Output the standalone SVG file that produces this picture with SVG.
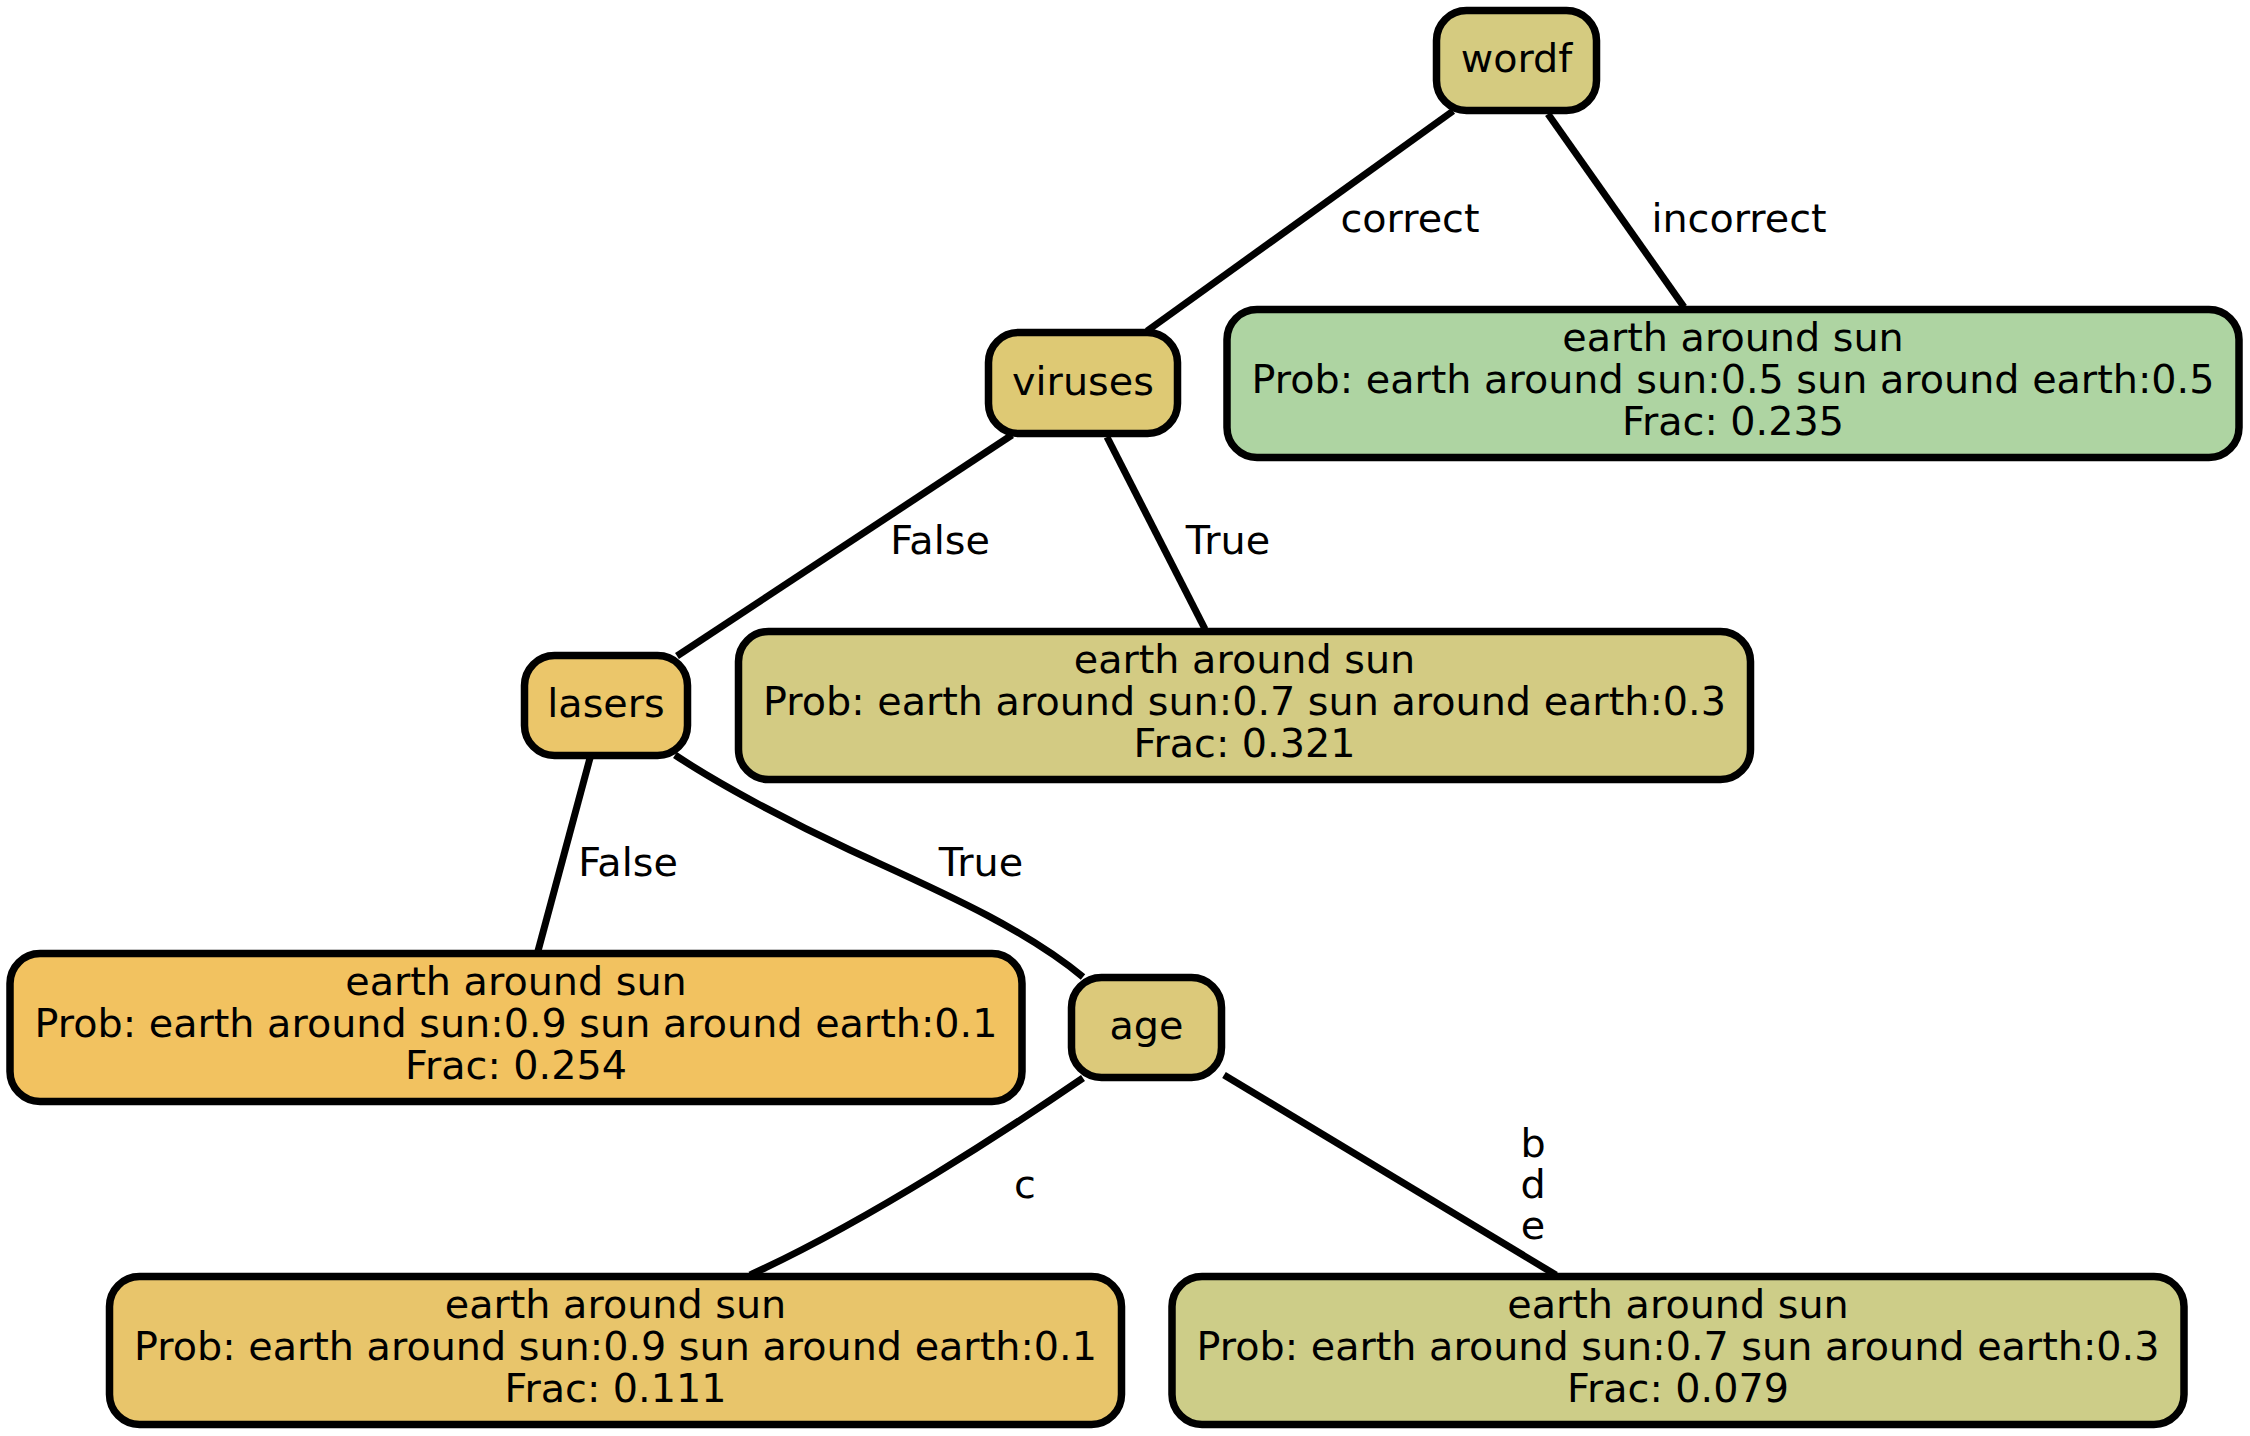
<svg xmlns="http://www.w3.org/2000/svg" width="2250" height="1436" viewBox="0 0 2250 1436">
<style>
.n{stroke:#000;stroke-width:7.5}
.e{fill:none;stroke:#000;stroke-width:7}
text{font-family:"DejaVu Sans","Liberation Sans",sans-serif;font-size:39.7px;fill:#000;text-anchor:middle}
</style>
<rect width="2250" height="1436" fill="#fff"/>
<g id="connectors">
<path class="e" d="M1453,111 L1147,331"/>
<path class="e" d="M1548,114 L1684,307"/>
<path class="e" d="M1012,435 L677,656"/>
<path class="e" d="M1107,437 L1205,629"/>
<path class="e" d="M590,758 L538,951"/>
<path class="e" d="M675,755 C720,785 790,822 850,850 C930,887 1020,925 1083,977"/>
<path class="e" d="M1083,1078 C1010,1128 870,1220 750,1275"/>
<path class="e" d="M1224,1075 L1556,1275"/>
<text x="1410" y="232">correct</text>
<text x="1739" y="232">incorrect</text>
<text x="940" y="554">False</text>
<text x="1228" y="554">True</text>
<text x="628" y="876">False</text>
<text x="981" y="876">True</text>
<text x="1025" y="1198">c</text>
<text x="1533" y="1157">b</text>
<text x="1533" y="1198">d</text>
<text x="1533" y="1239">e</text>
</g>
<g id="wordf">
<rect class="n" x="1436.5" y="10.5" width="160" height="100" rx="30" fill="#d5cb80"/>
<text x="1516.5" y="72">wordf</text>
</g>
<g id="viruses">
<rect class="n" x="988.5" y="332.5" width="189" height="101" rx="30" fill="#dec974"/>
<text x="1083" y="395">viruses</text>
</g>
<g id="leaf_incorrect">
<rect class="n" x="1227" y="309.5" width="1012" height="148" rx="30" fill="#aed4a2"/>
<text x="1733" y="351">earth around sun</text>
<text x="1733" y="393">Prob: earth around sun:0.5 sun around earth:0.5</text>
<text x="1733" y="435">Frac: 0.235</text>
</g>
<g id="lasers">
<rect class="n" x="524.5" y="655.5" width="163" height="100" rx="30" fill="#ebc66a"/>
<text x="606" y="717">lasers</text>
</g>
<g id="leaf_viruses_true">
<rect class="n" x="738.5" y="631.5" width="1012" height="148" rx="30" fill="#d3cb83"/>
<text x="1244.5" y="673">earth around sun</text>
<text x="1244.5" y="715">Prob: earth around sun:0.7 sun around earth:0.3</text>
<text x="1244.5" y="757">Frac: 0.321</text>
</g>
<g id="leaf_lasers_false">
<rect class="n" x="10" y="953.5" width="1012" height="148" rx="30" fill="#f2c260"/>
<text x="516" y="995">earth around sun</text>
<text x="516" y="1037">Prob: earth around sun:0.9 sun around earth:0.1</text>
<text x="516" y="1079">Frac: 0.254</text>
</g>
<g id="age">
<rect class="n" x="1071.5" y="977.5" width="150" height="100" rx="30" fill="#dcc97a"/>
<text x="1146.5" y="1039">age</text>
</g>
<g id="leaf_age_c">
<rect class="n" x="109.5" y="1276.5" width="1012" height="148" rx="30" fill="#e8c56b"/>
<text x="615.5" y="1318">earth around sun</text>
<text x="615.5" y="1360">Prob: earth around sun:0.9 sun around earth:0.1</text>
<text x="615.5" y="1402">Frac: 0.111</text>
</g>
<g id="leaf_age_bde">
<rect class="n" x="1172" y="1276.5" width="1012" height="148" rx="30" fill="#cdcd88"/>
<text x="1678" y="1318">earth around sun</text>
<text x="1678" y="1360">Prob: earth around sun:0.7 sun around earth:0.3</text>
<text x="1678" y="1402">Frac: 0.079</text>
</g>
</svg>
